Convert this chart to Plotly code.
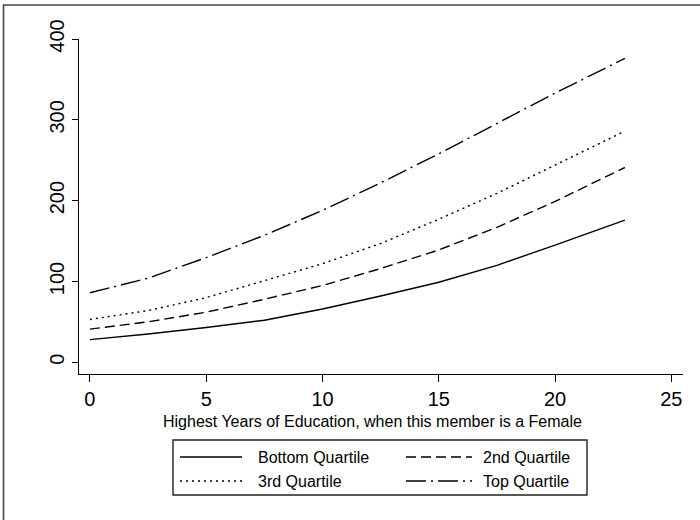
import plotly.graph_objects as go

# ---- data ----
education_years = [0, 2.5, 5, 7.5, 10, 12.5, 15, 17.5, 20, 23]
bottom_quartile = [28, 35, 43, 52, 66, 82, 99, 120, 145, 176]
second_quartile = [41, 50, 62, 78, 95, 116, 139, 167, 199, 241]
third_quartile = [53, 64, 80, 101, 122, 147, 177, 209, 244, 286]
top_quartile = [86, 104, 129.5, 157, 188, 222, 258, 296, 333, 376]

series_names = ["Bottom Quartile", "2nd Quartile", "3rd Quartile", "Top Quartile"]
series_values = [bottom_quartile, second_quartile, third_quartile, top_quartile]
x_ticks = [0, 5, 10, 15, 20, 25]
y_ticks = [0, 100, 200, 300, 400]
x_title = "Highest Years of Education, when this member is a Female"

# ---- styling ----
FONT = "Liberation Sans, Arial, Helvetica, sans-serif"
dashes = ["solid", "10px,5px", "2px,4px", "20px,5px,2px,5px"]
LW = 1.4

W, H = 700, 520
L, R, T, B = 79, 17, 39, 146
PW, PH = W - L - R, H - T - B


def px(xp):
    return (xp - L) / PW


def py(yp):
    return (H - B - yp) / PH


fig = go.Figure()
for name, vals, d in zip(series_names, series_values, dashes):
    fig.add_trace(go.Scatter(
        x=education_years, y=vals, mode="lines", name=name,
        line=dict(color="black", width=LW, dash=d), showlegend=False,
    ))

shapes = []
annotations = []

# outer border (only top and left visible in the reference)
shapes.append(dict(type="rect", xref="paper", yref="paper",
                   x0=px(3.5), x1=px(710), y0=py(5), y1=py(530),
                   line=dict(color="#444", width=1.6), fillcolor="rgba(0,0,0,0)",
                   layer="below"))

# x-axis title
annotations.append(dict(text=x_title, xref="paper", yref="paper",
                        x=px(372), y=py(421), xanchor="center", yanchor="middle",
                        showarrow=False, font=dict(family=FONT, size=16, color="black")))

# legend box
shapes.append(dict(type="rect", xref="paper", yref="paper",
                   x0=px(173), x1=px(587), y0=py(440), y1=py(495),
                   line=dict(color="#222", width=1.4), fillcolor="white"))
legend_pos = [(180, 242, 256, 457), (406, 472, 481, 457),
              (180, 242, 256, 481), (406, 472, 481, 481)]
for name, d, (sx0, sx1, tx, ty) in zip(series_names, dashes, legend_pos):
    shapes.append(dict(type="line", xref="paper", yref="paper",
                       x0=px(sx0), x1=px(sx1), y0=py(ty), y1=py(ty),
                       line=dict(color="black", width=LW, dash=d)))
    annotations.append(dict(text=name, xref="paper", yref="paper",
                            x=px(tx), y=py(ty), xanchor="left", yanchor="middle",
                            showarrow=False,
                            font=dict(family=FONT, size=16, color="black")))

fig.update_layout(
    width=W, height=H,
    margin=dict(l=L, r=R, t=T, b=B),
    paper_bgcolor="white", plot_bgcolor="white",
    font=dict(family=FONT, color="black"),
    shapes=shapes, annotations=annotations,
    showlegend=False,
)
fig.update_xaxes(
    range=[-0.47, 25.5], tickvals=x_ticks, ticktext=[str(v) for v in x_ticks],
    showgrid=False, zeroline=False, showline=True, linecolor="black", linewidth=1.2,
    ticks="outside", ticklen=7, tickwidth=1.2, tickcolor="black",
    tickfont=dict(family=FONT, size=20, color="black"),
)
fig.update_yaxes(
    range=[-14.5, 400], tickvals=y_ticks, ticktext=[str(v) for v in y_ticks],
    showgrid=False, zeroline=False, showline=True, linecolor="black", linewidth=1.2,
    ticks="outside", ticklen=6, tickwidth=1.2, tickcolor="black", tickangle=-90,
    tickfont=dict(family=FONT, size=20, color="black"),
)

fig.write_html("out.html",
               config={"displayModeBar": False},
               post_script="document.body.style.margin='0';document.body.style.overflow='hidden';")
